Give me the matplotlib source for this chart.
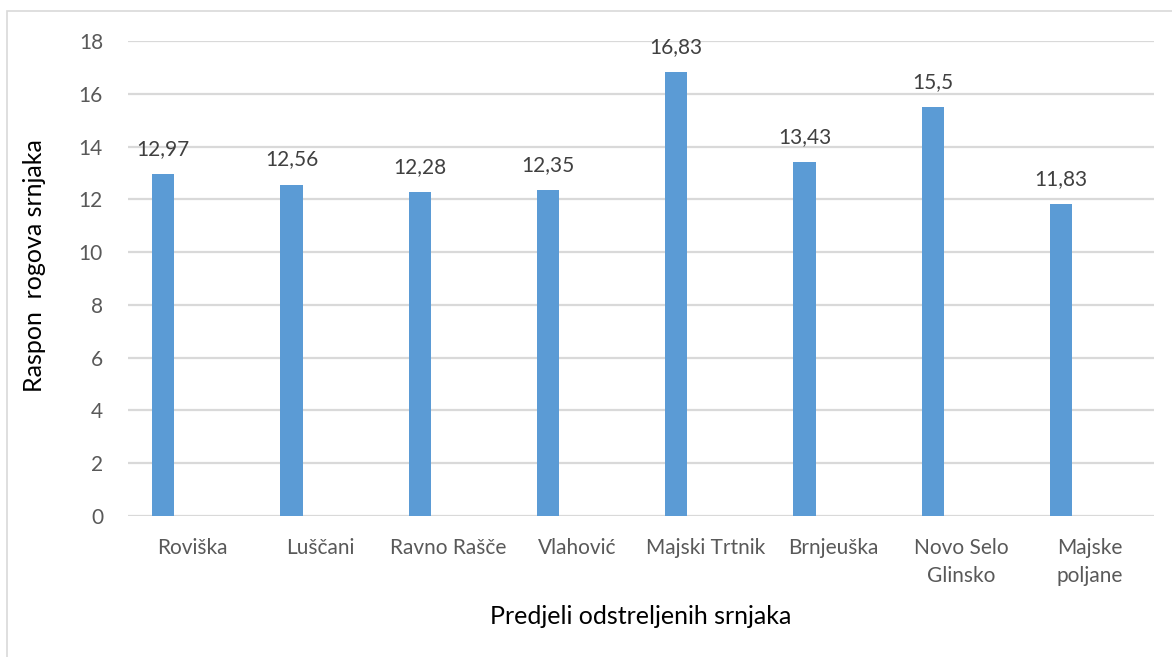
import matplotlib
matplotlib.use("Agg")
import matplotlib.pyplot as plt
import numpy as np
from matplotlib.patches import Rectangle

categories = ["Roviška", "Luščani", "Ravno Rašče", "Vlahović", "Majski Trtnik",
              "Brnjeuška", "Novo Selo\nGlinsko", "Majske\npoljane"]
values = [12.97, 12.56, 12.28, 12.35, 16.83, 13.43, 15.5, 11.83]
value_labels = ["12,97", "12,56", "12,28", "12,35", "16,83", "13,43", "15,5", "11,83"]
yticks = [0, 2, 4, 6, 8, 10, 12, 14, 16, 18]

W, H = 1172, 657
fig = plt.figure(figsize=(W / 100, H / 100), dpi=100)
plt.rcParams['font.family'] = ['Lato', 'DejaVu Sans']

# outer chart border (only left/top visible)
fig.patches.append(Rectangle((7 / W, -0.02), 1.05, (H - 11) / H + 0.02, transform=fig.transFigure,
                             fill=False, edgecolor="#d9d9d9", linewidth=1.2))

ax = fig.add_axes([128 / W, (H - 516) / H, (1154 - 128) / W, (516 - 41) / H])
x = np.arange(len(categories))
bar_offset = -0.225
bars = ax.bar(x + bar_offset, values, width=0.175, color="#5b9bd5", zorder=3)

for xi, v, lab in zip(x, values, value_labels):
    ax.annotate(lab, (xi + bar_offset, v), xytext=(0, 18), textcoords="offset points",
                ha="center", va="center", fontsize=15, color="#404040")

ax.set_xlim(-0.5, len(categories) - 0.5)
ax.set_ylim(0, 18)
ax.set_yticks(yticks)
ax.set_yticklabels([str(t) for t in yticks])
ax.set_xticks(x)
ax.set_xticklabels(categories, linespacing=1.5)
ax.tick_params(axis="both", length=0, labelsize=15, labelcolor="#595959")
ax.tick_params(axis="y", pad=18)
ax.tick_params(axis="x", pad=16)
ax.yaxis.grid(True, color="#d9d9d9", linewidth=1.6, zorder=0)
for s in ax.spines.values():
    s.set_visible(False)
ax.set_axisbelow(True)

fig.text(35 / W, (H - 266) / H, "Raspon  rogova srnjaka", rotation=90, ha="center", va="center",
         fontsize=18, color="black")
fig.text(641 / W, (H - 616) / H, "Predjeli odstreljenih srnjaka", ha="center", va="center",
         fontsize=18, color="black")

fig.savefig("out.png", dpi=100)
